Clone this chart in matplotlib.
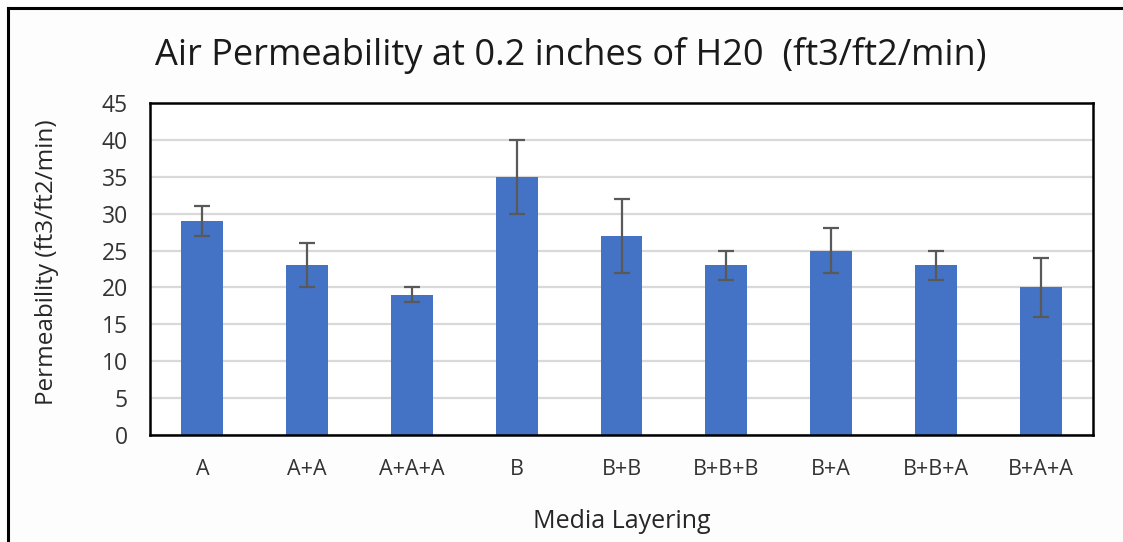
import numpy as np
import matplotlib.pyplot as plt
from matplotlib.lines import Line2D

plt.rcParams['font.family'] = ['Open Sans', 'DejaVu Sans']

categories = ["A", "A+A", "A+A+A", "B", "B+B", "B+B+B", "B+A", "B+B+A", "B+A+A"]
permeability = [29, 23, 19, 35, 27, 23, 25, 23, 20]
err_low = [2, 3, 1, 5, 5, 2, 3, 2, 4]
err_high = [2, 3, 1, 5, 5, 2, 3, 2, 4]
y_ticks = [0, 5, 10, 15, 20, 25, 30, 35, 40, 45]

W, H = 1123, 542
fig = plt.figure(figsize=(W / 100, H / 100), dpi=100)
fig.patch.set_facecolor("#fdfdfd")
ax = fig.add_axes([150 / W, 1 - 435 / H, 943 / W, 332 / H])

x = np.arange(len(categories))
ax.bar(x, permeability, width=0.4, color="#4472C4", zorder=2)
ax.errorbar(x, permeability, yerr=[err_low, err_high], fmt="none",
            ecolor="#595959", elinewidth=1.6, capsize=5.5, capthick=1.6, zorder=3)

ax.set_xlim(-0.5, len(categories) - 0.5)
ax.set_ylim(0, 45)
ax.set_yticks(y_ticks)
ax.set_xticks(x)
ax.set_xticklabels(categories)
ax.tick_params(axis="both", length=0, colors="#333333")
ax.tick_params(axis="x", pad=17, labelsize=15.5)
ax.tick_params(axis="y", pad=16, labelsize=16.5)
ax.yaxis.grid(True, color="#d9d9d9", linewidth=1.6, zorder=0)
ax.set_axisbelow(True)
for s in ax.spines.values():
    s.set_linewidth(1.8)
    s.set_color("black")

ax.set_ylabel("Permeability (ft3/ft2/min)", fontsize=17.5, color="#262626")
ax.yaxis.label.set_va("center")
ax.yaxis.set_label_coords((47 - 150) / 943, 0.52)
ax.set_xlabel("Media Layering", fontsize=18, color="#262626")
ax.xaxis.label.set_va("center")
ax.xaxis.set_label_coords((622 - 150) / 943, (435 - 521) / 332)
fig.text(571 / W, 1 - 55 / H, "Air Permeability at 0.2 inches of H20  (ft3/ft2/min)",
         ha="center", va="center", fontsize=26, color="#1a1a1a")

# outer frame (left and top edges visible)
fig.add_artist(Line2D([8 / W, 8 / W], [0, 1 - 8 / H], transform=fig.transFigure,
                      color="black", linewidth=2.2))
fig.add_artist(Line2D([8 / W, 1], [1 - 8 / H, 1 - 8 / H], transform=fig.transFigure,
                      color="black", linewidth=2.2))

fig.savefig("out.png", dpi=100, facecolor=fig.get_facecolor())
